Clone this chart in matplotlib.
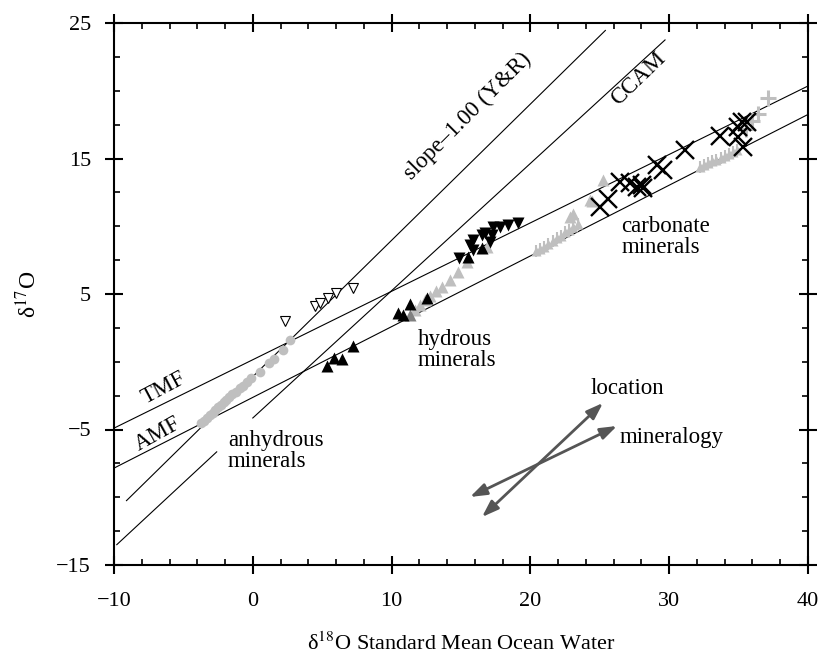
"""
Triple oxygen isotope plot: d17O vs d18O with fractionation lines and mineral groups.
"""

import matplotlib

matplotlib.use("Agg")
import matplotlib.pyplot as plt
from matplotlib.ticker import MultipleLocator

# reference lines, endpoints
tmf_x = [-10, 40]
tmf_y = [-4.9, 20.35]
amf_x = [-10, 40]
amf_y = [-7.85, 18.25]
yr_x = [-9.1, 25.4]
yr_y = [-10.25, 24.45]
ccam_lo_x = [-9.8, -2.6]
ccam_lo_y = [-13.5, -6.65]
ccam_hi_x = [0.0, 29.7]
ccam_hi_y = [-4.15, 23.75]

# anhydrous minerals (grey circles)
anhyd_x = [-3.7, -3.5, -3.3, -3.1, -2.9, -2.7, -2.5, -2.3, -2.1, -1.9, -1.7,
           -1.5, -1.2, -0.9, -0.7, -0.4, -0.1, 0.5, 1.2, 1.5, 2.15, 2.7]
anhyd_y = [-4.55, -4.35, -4.15, -3.95, -3.75, -3.55, -3.35, -3.2, -3.0, -2.8, -2.6,
           -2.4, -2.2, -1.95, -1.8, -1.5, -1.2, -0.75, -0.1, 0.2, 0.9, 1.6]

# open down triangles
open_x = [2.35, 4.5, 4.85, 5.45, 6.0, 7.2]
open_y = [3.03, 4.11, 4.35, 4.73, 5.1, 5.46]

# hydrous minerals, black up triangles
hyd_up_x = [5.32, 5.85, 6.4, 7.24, 10.48, 10.84, 11.33, 12.52, 15.52, 16.48]
hyd_up_y = [-0.31, 0.25, 0.18, 1.16, 3.58, 3.45, 4.26, 4.68, 7.75, 8.37]

# hydrous minerals, black down triangles
hyd_dn_x = [14.88, 15.65, 15.84, 15.88, 16.49, 16.73, 17.09, 17.21, 17.32, 17.81, 18.41, 19.13]
hyd_dn_y = [7.63, 8.62, 8.99, 8.25, 9.35, 9.48, 8.86, 9.35, 9.97, 9.97, 10.09, 10.26]

# hydrous minerals, grey up triangles
hyd_grey_x = [11.69, 12.05, 12.41, 12.77, 13.2, 13.63, 14.2, 14.78, 15.41, 16.85]
hyd_grey_y = [3.82, 4.19, 4.56, 4.85, 5.22, 5.52, 6.03, 6.62, 7.38, 8.49]
hyd_dark_x = [11.33]
hyd_dark_y = [3.45]

# carbonate minerals, grey triangles
carb_grey_x = [22.85, 23.07, 24.29, 24.41, 25.25]
carb_grey_y = [10.7, 10.9, 11.94, 11.89, 13.4]
carb_small_x = [20.4, 20.7, 21.0, 21.3, 21.6, 21.9, 22.2, 22.5, 22.8, 23.1, 23.4,
                32.2, 32.5, 32.8, 33.1, 33.4, 33.7, 34.0, 34.3, 34.6, 34.9]
carb_small_y = [8.2, 8.35, 8.5, 8.7, 8.9, 9.1, 9.3, 9.55, 9.75, 9.95, 10.2,
                14.4, 14.5, 14.65, 14.8, 14.9, 15.05, 15.2, 15.3, 15.45, 15.6]
carb_plus_x = [35.5, 36.0, 36.4, 37.1]
carb_plus_y = [17.2, 17.8, 18.3, 19.5]

# carbonate minerals, black crosses
carb_x = [25.01, 25.61, 26.46, 27.18, 27.66, 28.01, 28.13, 29.09, 29.57, 31.13,
          33.65, 34.97, 35.22, 35.58, 34.97, 35.33]
carb_y = [11.44, 11.99, 13.29, 13.17, 12.92, 13.04, 12.80, 14.52, 14.15, 15.63,
          16.66, 17.35, 17.72, 17.72, 16.61, 15.87]

# trend arrows (tail, head)
loc_arrow = [(16.51, -11.46), (25.23, -3.04)]
min_arrow = [(15.65, -9.98), (26.24, -4.74)]

SERIF = ["Liberation Serif", "DejaVu Serif"]
LINE_KW = dict(color="black", lw=0.8)
GREY = "#bfbfbf"


def main() -> None:
    plt.rcParams["font.family"] = SERIF
    plt.rcParams["mathtext.fontset"] = "stix"

    fig = plt.figure(figsize=(8.18, 6.66), dpi=100)
    ax = fig.add_axes([114 / 818, 1 - 565 / 666, 694 / 818, 542 / 666])

    ax.plot(tmf_x, tmf_y, **LINE_KW)
    ax.plot(amf_x, amf_y, **LINE_KW)
    ax.plot(yr_x, yr_y, **LINE_KW)
    ax.plot(ccam_lo_x, ccam_lo_y, **LINE_KW)
    ax.plot(ccam_hi_x, ccam_hi_y, **LINE_KW)

    ax.plot(anhyd_x, anhyd_y, "o", ms=7, color=GREY, mec="none", zorder=3)
    ax.plot(open_x, open_y, "v", ms=7, mfc="white", mec="black", mew=0.8, zorder=3)
    ax.plot(hyd_grey_x, hyd_grey_y, "^", ms=9, color=GREY, mec="none", zorder=3)
    ax.plot(hyd_dark_x, hyd_dark_y, "^", ms=9, color="#808080", mec="none", zorder=3)
    ax.plot(hyd_up_x, hyd_up_y, "^", ms=9, color="black", mec="none", zorder=4)
    ax.plot(hyd_dn_x, hyd_dn_y, "v", ms=9, color="black", mec="none", zorder=4)

    ax.plot(carb_small_x, carb_small_y, "^", ms=6.5, color=GREY, mec="none", zorder=3)
    ax.plot(carb_small_x, carb_small_y, "|", ms=8, color=GREY, mew=1.5, zorder=3)
    ax.plot(carb_grey_x, carb_grey_y, "^", ms=9, color=GREY, mec="none", zorder=3)
    ax.plot(carb_plus_x, carb_plus_y, "+", ms=12, color=GREY, mew=2.2, zorder=3)
    ax.plot(carb_x, carb_y, "x", ms=13, color="black", mew=1.7, zorder=4)

    for tail, head in (loc_arrow, min_arrow):
        ax.annotate("", xy=head, xytext=tail,
                    arrowprops=dict(arrowstyle="<|-|>,head_length=1.0,head_width=0.35",
                                    color="#555555", lw=2.0, shrinkA=0, shrinkB=0))

    txt = dict(fontsize=16.5, color="black")
    ax.text(-6.4, -1.95, "TMF", rotation=28, ha="center", va="center", **txt)
    ax.text(-6.85, -5.35, "AMF", rotation=29, ha="center", va="center", **txt)
    ax.text(15.5, 18.1, "slope–1.00 (Y&R)", rotation=45, ha="center", va="center", **txt)
    ax.text(27.8, 20.9, "CCAM", rotation=44, ha="center", va="center", **txt)
    ax.text(-1.8, -6.55, "anhydrous\nminerals", ha="left", va="center", linespacing=1.0, **txt)
    ax.text(11.9, 0.9, "hydrous\nminerals", ha="left", va="center", linespacing=1.0, **txt)
    ax.text(26.55, 9.2, "carbonate\nminerals", ha="left", va="center", linespacing=1.0, **txt)
    ax.text(27.0, -2.0, "location", ha="center", va="center", **txt)
    ax.text(26.4, -5.6, "mineralogy", ha="left", va="center", **txt)

    ax.set_xlim(-10, 40)
    ax.set_ylim(-15, 25)
    ax.xaxis.set_major_locator(MultipleLocator(10))
    ax.xaxis.set_minor_locator(MultipleLocator(2))
    ax.yaxis.set_major_locator(MultipleLocator(10))
    ax.yaxis.set_minor_locator(MultipleLocator(2.5))
    ax.set_yticks([-15, -5, 5, 15, 25])

    for side in ax.spines.values():
        side.set_linewidth(1.5)
    ax.tick_params(which="major", direction="inout", length=13, width=1.5,
                   top=True, right=True, labelsize=16)
    ax.tick_params(which="minor", direction="in", length=4, width=1.2, top=True, right=True)
    ax.tick_params(axis="x", which="major", pad=13)
    ax.tick_params(axis="y", which="major", pad=10)

    ax.set_xlabel("δ$^{18}$O Standard Mean Ocean Water", fontsize=16)
    ax.xaxis.set_label_coords(0.5, -0.124)
    ax.set_ylabel("δ$^{17}$O", fontsize=17)
    ax.yaxis.set_label_coords(-0.105, 0.5)

    fig.savefig("out.png", dpi=100)
    plt.close(fig)


if __name__ == "__main__":
    main()
